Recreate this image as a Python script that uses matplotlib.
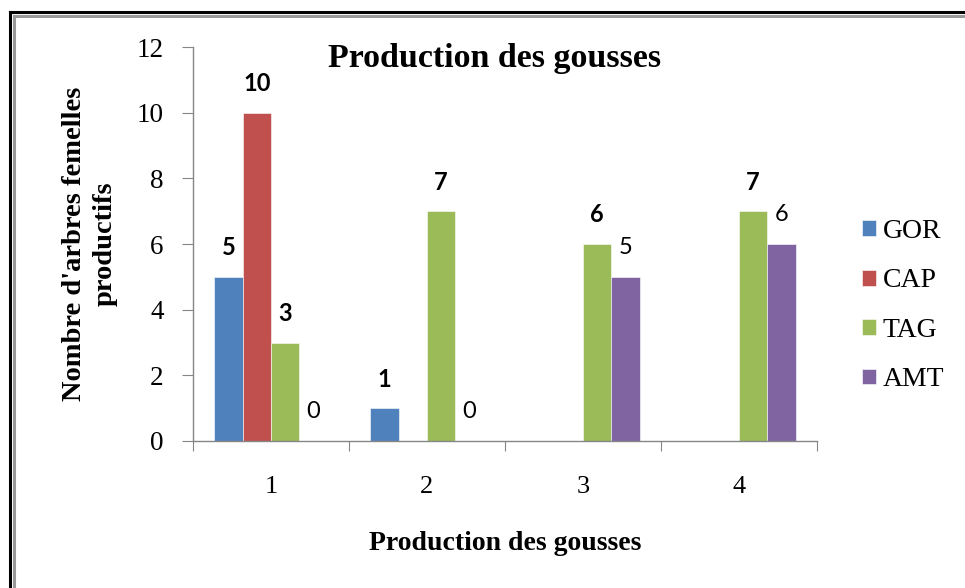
import numpy as np
import matplotlib
matplotlib.use("Agg")
import matplotlib.pyplot as plt
from matplotlib.lines import Line2D

categories = ["1", "2", "3", "4"]
series = ["GOR", "CAP", "TAG", "AMT"]
gor = [5, 1, np.nan, np.nan]
cap = [10, np.nan, np.nan, np.nan]
tag = [3, 7, 6, 7]
amt = [0, 0, 5, 6]
colors = ["#4F81BD", "#C0504D", "#9BBB59", "#8064A2"]
label_weights = ["bold", "bold", "bold", "normal"]

serif = "Liberation Serif"
sans = "Lato"

fig = plt.figure(figsize=(9.65, 5.88), dpi=100)
ax = fig.add_axes([0.2, 0.25, 0.6466, 0.67])

x = np.arange(len(categories))
width = 1 / 5.5
for i, (name, vals) in enumerate(zip(series, [gor, cap, tag, amt])):
    pos = x + (i - 1.5) * width
    vals = np.array(vals, dtype=float)
    ax.bar(pos, np.nan_to_num(vals), width, color=colors[i], label=name,
           edgecolor="white", linewidth=0.4)
    for px, v in zip(pos, vals):
        if np.isnan(v):
            continue
        ax.annotate(f"{v:g}", (px, v), xytext=(0, 21), textcoords="offset points",
                    ha="center", va="center", fontsize=17, family=sans,
                    fontweight=label_weights[i], color="black")

ax.set_xlim(-0.5, len(categories) - 0.5)
ax.set_ylim(0, 12)
ax.set_yticks(range(0, 13, 2))
ax.set_xticks(np.arange(-0.5, len(categories)), minor=False)
ax.set_xticklabels([])
ax.set_xticks(x, minor=True)
ax.set_xticklabels(categories, minor=True)
ax.tick_params(axis="x", which="minor", length=0, pad=25, labelsize=19)
ax.tick_params(axis="x", which="major", length=7, direction="out", color="#868686")
ax.tick_params(axis="y", length=8, direction="out", color="#868686", pad=13, labelsize=19.5)
for lab in ax.get_xticklabels(minor=True) + ax.get_yticklabels():
    lab.set_family(serif)
for side in ["top", "right"]:
    ax.spines[side].set_visible(False)
for side in ["left", "bottom"]:
    ax.spines[side].set_color("#868686")
    ax.spines[side].set_linewidth(1.0)

fig.text(0.513, 0.9, "Production des gousses", ha="center", va="center",
         fontsize=24.5, fontweight="bold", family=serif)
ax.set_xlabel("Production des gousses", fontsize=20, fontweight="bold",
              family=serif, labelpad=24)
fig.text(90 / 965, 1 - 244 / 588, "Nombre d'arbres femelles\nproductifs",
         rotation=90, ha="center", va="center", fontsize=20.5, fontweight="bold",
         family=serif, linespacing=1.3)

leg = fig.legend(loc="upper left", bbox_to_anchor=(862 / 965, 1 - 219 / 588),
                 frameon=False, borderpad=0, borderaxespad=0,
                 handlelength=0.5, handleheight=0.5, handletextpad=0.25,
                 labelspacing=0.88, prop={"family": serif, "size": 20})

# double frame line along the top and left edges
for off, col in [(0, "black"), (4, "#999999")]:
    fig.add_artist(Line2D([(10 + off) / 965, (10 + off) / 965], [0, 1 - (12 + off) / 588],
                          color=col, linewidth=2.2, transform=fig.transFigure))
    fig.add_artist(Line2D([(10 + off) / 965, 1], [1 - (12 + off) / 588, 1 - (12 + off) / 588],
                          color=col, linewidth=2.2, transform=fig.transFigure))

fig.savefig("out.png", dpi=100)
